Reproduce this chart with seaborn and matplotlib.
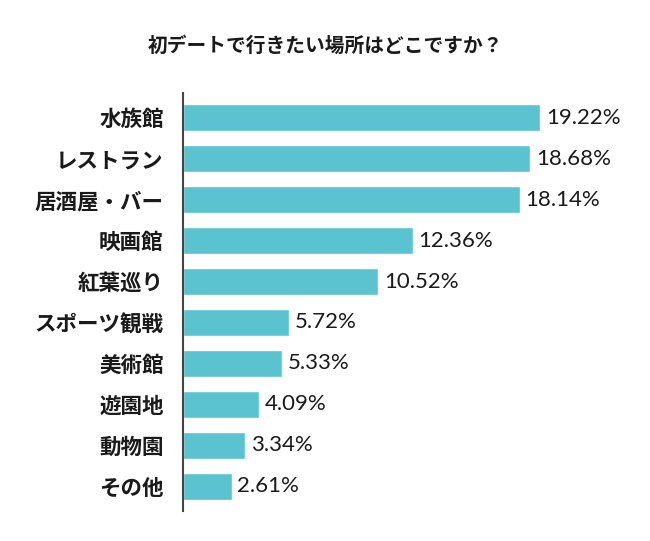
import matplotlib
matplotlib.use("Agg")
import matplotlib.pyplot as plt
import pandas as pd
import seaborn as sns

# data
places = ["水族館", "レストラン", "居酒屋・バー", "映画館", "紅葉巡り",
          "スポーツ観戦", "美術館", "遊園地", "動物園", "その他"]
shares = [19.22, 18.68, 18.14, 12.36, 10.52, 5.72, 5.33, 4.09, 3.34, 2.61]
title = "初デートで行きたい場所はどこですか？"

BAR_COLOR = "#5bc3cf"
TEXT_COLOR = "#1a1a1a"

sns.set_style("white")
plt.rcParams["font.family"] = ["Noto Sans CJK JP", "DejaVu Sans"]

df = pd.DataFrame({"place": places, "share": shares})

fig = plt.figure(figsize=(6.5, 5.41), dpi=100)
ax = fig.add_axes([183 / 650, 30 / 541, 446 / 650, 418 / 541])

sns.barplot(data=df, x="share", y="place", color=BAR_COLOR, width=0.66,
            saturation=1, ax=ax)

ax.set_xlim(0, 24)
ax.set_ylim(9.61, -0.61)
ax.set_xlabel("")
ax.set_ylabel("")
ax.set_xticks([])
ax.tick_params(axis="y", length=0, pad=14)
for lbl in ax.get_yticklabels():
    lbl.set_fontsize(15.5)
    lbl.set_fontweight("bold")
    lbl.set_color(TEXT_COLOR)

for side in ["top", "right", "bottom"]:
    ax.spines[side].set_visible(False)
ax.spines["left"].set_color("#444444")
ax.spines["left"].set_linewidth(1.5)

for i, v in enumerate(shares):
    ax.text(v + 0.3, i, f"{v:.2f}%", va="center", ha="left", fontsize=16,
            family=["Lato", "DejaVu Sans"], color=TEXT_COLOR)

fig.text(0.5, 1 - 46 / 541, title, ha="center", va="center", fontsize=14.2,
         fontweight="bold", color=TEXT_COLOR)

fig.savefig("out.png", dpi=100)
